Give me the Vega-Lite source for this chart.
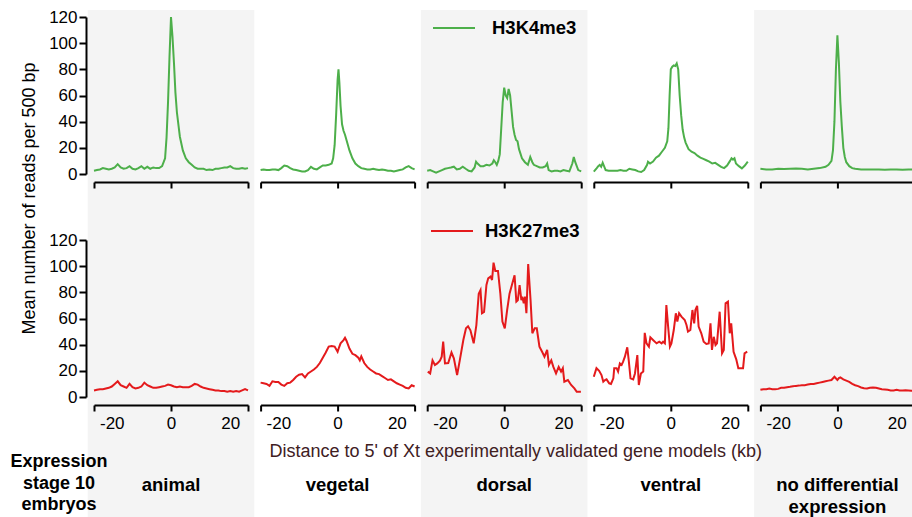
{
  "$schema": "https://vega.github.io/schema/vega-lite/v6.json",
  "background": "white",
  "padding": {"left": 10, "top": 6, "right": 0, "bottom": 0},
  "title": {"text": "Mean number of reads per 500 bp", "orient": "left", "anchor": "middle", "offset": -28, "dx": 64, "fontSize": 18, "fontWeight": "normal", "font": "Liberation Sans", "color": "black"},
  "config": {
    "font": "Liberation Sans",
    "view": {"stroke": null},
    "axis": {"grid": false, "domainColor": "black", "domainWidth": 2, "tickColor": "black", "tickWidth": 2, "labelColor": "black", "labelFontSize": 17, "labelFont": "Liberation Sans", "zindex": 1},
    "legend": {"labelFont": "Liberation Sans"}
  },
  "resolve": {"scale": {"x": "independent", "y": "independent", "color": "independent", "fill": "independent"}, "legend": {"color": "independent"}},
  "spacing": 0,
  "datasets": {
    "k4": [
      {"cond":"animal","kb":-26,"reads":2.5},{"cond":"animal","kb":-25,"reads":3},{"cond":"animal","kb":-24,"reads":3.5},{"cond":"animal","kb":-23,"reads":4.5},{"cond":"animal","kb":-22,"reads":4},{"cond":"animal","kb":-21,"reads":3.5},{"cond":"animal","kb":-20,"reads":4},{"cond":"animal","kb":-19,"reads":5},{"cond":"animal","kb":-18,"reads":7.5},{"cond":"animal","kb":-17,"reads":5},{"cond":"animal","kb":-16,"reads":4},{"cond":"animal","kb":-15,"reads":4.5},{"cond":"animal","kb":-14,"reads":6},{"cond":"animal","kb":-13,"reads":4},{"cond":"animal","kb":-12,"reads":3.5},{"cond":"animal","kb":-11,"reads":4.5},{"cond":"animal","kb":-10,"reads":6},{"cond":"animal","kb":-9,"reads":4},{"cond":"animal","kb":-8,"reads":5.5},{"cond":"animal","kb":-7,"reads":4},{"cond":"animal","kb":-6,"reads":5},{"cond":"animal","kb":-5,"reads":4.5},{"cond":"animal","kb":-4,"reads":4.5},{"cond":"animal","kb":-3,"reads":6},{"cond":"animal","kb":-2,"reads":12},{"cond":"animal","kb":-1.5,"reads":28},{"cond":"animal","kb":-1,"reads":55},{"cond":"animal","kb":-0.5,"reads":90},{"cond":"animal","kb":0,"reads":120},{"cond":"animal","kb":0.5,"reads":105},{"cond":"animal","kb":1,"reads":85},{"cond":"animal","kb":1.5,"reads":62},{"cond":"animal","kb":2,"reads":47},{"cond":"animal","kb":3,"reads":28.5},{"cond":"animal","kb":4,"reads":18},{"cond":"animal","kb":5,"reads":12},{"cond":"animal","kb":6,"reads":9},{"cond":"animal","kb":7,"reads":7},{"cond":"animal","kb":8,"reads":5},{"cond":"animal","kb":9,"reads":4},{"cond":"animal","kb":10,"reads":4},{"cond":"animal","kb":11,"reads":4},{"cond":"animal","kb":12,"reads":3},{"cond":"animal","kb":13,"reads":3.5},{"cond":"animal","kb":14,"reads":3},{"cond":"animal","kb":15,"reads":4},{"cond":"animal","kb":16,"reads":4},{"cond":"animal","kb":17,"reads":4.5},{"cond":"animal","kb":18,"reads":5},{"cond":"animal","kb":19,"reads":5},{"cond":"animal","kb":20,"reads":6},{"cond":"animal","kb":21,"reads":4.5},{"cond":"animal","kb":22,"reads":4},{"cond":"animal","kb":23,"reads":4},{"cond":"animal","kb":24,"reads":4.5},{"cond":"animal","kb":25,"reads":4},{"cond":"animal","kb":26,"reads":4.5},
      {"cond":"vegetal","kb":-26,"reads":3},{"cond":"vegetal","kb":-25,"reads":3.5},{"cond":"vegetal","kb":-24,"reads":3},{"cond":"vegetal","kb":-23,"reads":3},{"cond":"vegetal","kb":-22,"reads":3.5},{"cond":"vegetal","kb":-21,"reads":3.5},{"cond":"vegetal","kb":-20,"reads":3},{"cond":"vegetal","kb":-19,"reads":4.5},{"cond":"vegetal","kb":-18,"reads":6.5},{"cond":"vegetal","kb":-17,"reads":6},{"cond":"vegetal","kb":-16,"reads":4.5},{"cond":"vegetal","kb":-15,"reads":3.5},{"cond":"vegetal","kb":-14,"reads":3},{"cond":"vegetal","kb":-13,"reads":2.5},{"cond":"vegetal","kb":-12,"reads":2},{"cond":"vegetal","kb":-11,"reads":2},{"cond":"vegetal","kb":-10,"reads":3},{"cond":"vegetal","kb":-9,"reads":5.5},{"cond":"vegetal","kb":-8,"reads":4},{"cond":"vegetal","kb":-7,"reads":3.5},{"cond":"vegetal","kb":-6,"reads":5},{"cond":"vegetal","kb":-5,"reads":6.5},{"cond":"vegetal","kb":-4,"reads":6.5},{"cond":"vegetal","kb":-3,"reads":7},{"cond":"vegetal","kb":-2,"reads":8},{"cond":"vegetal","kb":-1.5,"reads":12},{"cond":"vegetal","kb":-1,"reads":22},{"cond":"vegetal","kb":-0.5,"reads":45},{"cond":"vegetal","kb":0,"reads":72},{"cond":"vegetal","kb":0.3,"reads":80},{"cond":"vegetal","kb":0.6,"reads":70},{"cond":"vegetal","kb":1,"reads":52},{"cond":"vegetal","kb":1.5,"reads":38},{"cond":"vegetal","kb":2,"reads":33},{"cond":"vegetal","kb":2.5,"reads":30},{"cond":"vegetal","kb":3,"reads":26},{"cond":"vegetal","kb":4,"reads":18},{"cond":"vegetal","kb":5,"reads":12},{"cond":"vegetal","kb":6,"reads":8},{"cond":"vegetal","kb":7,"reads":6},{"cond":"vegetal","kb":8,"reads":4.5},{"cond":"vegetal","kb":9,"reads":4},{"cond":"vegetal","kb":10,"reads":3.5},{"cond":"vegetal","kb":11,"reads":3.5},{"cond":"vegetal","kb":12,"reads":4},{"cond":"vegetal","kb":13,"reads":3.5},{"cond":"vegetal","kb":14,"reads":3},{"cond":"vegetal","kb":15,"reads":3.5},{"cond":"vegetal","kb":16,"reads":3},{"cond":"vegetal","kb":17,"reads":2.5},{"cond":"vegetal","kb":18,"reads":2.5},{"cond":"vegetal","kb":19,"reads":2},{"cond":"vegetal","kb":20,"reads":2.5},{"cond":"vegetal","kb":21,"reads":3},{"cond":"vegetal","kb":22,"reads":3.5},{"cond":"vegetal","kb":23,"reads":5},{"cond":"vegetal","kb":24,"reads":6},{"cond":"vegetal","kb":25,"reads":4.5},{"cond":"vegetal","kb":26,"reads":3.5},
      {"cond":"dorsal","kb":-26,"reads":2.5},{"cond":"dorsal","kb":-25,"reads":3},{"cond":"dorsal","kb":-24,"reads":2},{"cond":"dorsal","kb":-23,"reads":1},{"cond":"dorsal","kb":-22,"reads":2},{"cond":"dorsal","kb":-21,"reads":3},{"cond":"dorsal","kb":-20,"reads":4},{"cond":"dorsal","kb":-19,"reads":4.5},{"cond":"dorsal","kb":-18,"reads":5},{"cond":"dorsal","kb":-17,"reads":5.6},{"cond":"dorsal","kb":-16,"reads":3.5},{"cond":"dorsal","kb":-15,"reads":4},{"cond":"dorsal","kb":-14,"reads":5.6},{"cond":"dorsal","kb":-13,"reads":4},{"cond":"dorsal","kb":-12,"reads":2.5},{"cond":"dorsal","kb":-11,"reads":2},{"cond":"dorsal","kb":-10,"reads":5},{"cond":"dorsal","kb":-9.5,"reads":9.4},{"cond":"dorsal","kb":-9,"reads":8},{"cond":"dorsal","kb":-8,"reads":6},{"cond":"dorsal","kb":-7,"reads":6},{"cond":"dorsal","kb":-6,"reads":7},{"cond":"dorsal","kb":-5,"reads":6.5},{"cond":"dorsal","kb":-4,"reads":8},{"cond":"dorsal","kb":-3.5,"reads":10.5},{"cond":"dorsal","kb":-3,"reads":9},{"cond":"dorsal","kb":-2.5,"reads":7},{"cond":"dorsal","kb":-2,"reads":10},{"cond":"dorsal","kb":-1.5,"reads":15},{"cond":"dorsal","kb":-1,"reads":35},{"cond":"dorsal","kb":-0.5,"reads":55},{"cond":"dorsal","kb":0,"reads":66},{"cond":"dorsal","kb":0.5,"reads":60},{"cond":"dorsal","kb":1,"reads":58},{"cond":"dorsal","kb":1.5,"reads":65},{"cond":"dorsal","kb":2,"reads":60},{"cond":"dorsal","kb":2.5,"reads":48},{"cond":"dorsal","kb":3,"reads":36},{"cond":"dorsal","kb":3.5,"reads":30},{"cond":"dorsal","kb":4,"reads":26},{"cond":"dorsal","kb":4.5,"reads":25},{"cond":"dorsal","kb":5,"reads":19},{"cond":"dorsal","kb":6,"reads":12},{"cond":"dorsal","kb":7,"reads":9},{"cond":"dorsal","kb":8,"reads":7},{"cond":"dorsal","kb":8.8,"reads":13},{"cond":"dorsal","kb":9.5,"reads":9},{"cond":"dorsal","kb":10,"reads":7},{"cond":"dorsal","kb":11,"reads":6},{"cond":"dorsal","kb":12,"reads":5},{"cond":"dorsal","kb":13,"reads":5},{"cond":"dorsal","kb":14,"reads":6},{"cond":"dorsal","kb":14.5,"reads":8},{"cond":"dorsal","kb":15,"reads":3},{"cond":"dorsal","kb":16,"reads":2},{"cond":"dorsal","kb":17,"reads":2.5},{"cond":"dorsal","kb":18,"reads":2.5},{"cond":"dorsal","kb":19,"reads":2},{"cond":"dorsal","kb":20,"reads":3},{"cond":"dorsal","kb":21,"reads":2.5},{"cond":"dorsal","kb":22,"reads":2},{"cond":"dorsal","kb":23,"reads":8},{"cond":"dorsal","kb":23.5,"reads":13},{"cond":"dorsal","kb":24,"reads":9},{"cond":"dorsal","kb":25,"reads":3},{"cond":"dorsal","kb":26,"reads":2},
      {"cond":"ventral","kb":-26,"reads":1.8},{"cond":"ventral","kb":-25,"reads":4.5},{"cond":"ventral","kb":-24.5,"reads":6},{"cond":"ventral","kb":-24,"reads":7},{"cond":"ventral","kb":-23.5,"reads":5.5},{"cond":"ventral","kb":-23,"reads":8.6},{"cond":"ventral","kb":-22,"reads":3},{"cond":"ventral","kb":-21,"reads":2.5},{"cond":"ventral","kb":-20,"reads":2.5},{"cond":"ventral","kb":-19,"reads":2.5},{"cond":"ventral","kb":-18,"reads":2.5},{"cond":"ventral","kb":-17,"reads":3},{"cond":"ventral","kb":-16,"reads":2.5},{"cond":"ventral","kb":-15,"reads":2.5},{"cond":"ventral","kb":-14,"reads":4},{"cond":"ventral","kb":-13,"reads":3.5},{"cond":"ventral","kb":-12,"reads":3},{"cond":"ventral","kb":-11,"reads":2},{"cond":"ventral","kb":-10,"reads":1.5},{"cond":"ventral","kb":-9,"reads":3},{"cond":"ventral","kb":-8,"reads":7},{"cond":"ventral","kb":-7.7,"reads":9.4},{"cond":"ventral","kb":-7,"reads":8},{"cond":"ventral","kb":-6,"reads":9.5},{"cond":"ventral","kb":-5,"reads":12.5},{"cond":"ventral","kb":-4,"reads":14},{"cond":"ventral","kb":-3,"reads":17},{"cond":"ventral","kb":-2,"reads":20},{"cond":"ventral","kb":-1.2,"reads":25},{"cond":"ventral","kb":-0.8,"reads":35},{"cond":"ventral","kb":-0.4,"reads":60},{"cond":"ventral","kb":0,"reads":80},{"cond":"ventral","kb":0.5,"reads":82},{"cond":"ventral","kb":1,"reads":83},{"cond":"ventral","kb":1.5,"reads":82.5},{"cond":"ventral","kb":2,"reads":84.5},{"cond":"ventral","kb":2.5,"reads":80},{"cond":"ventral","kb":3,"reads":60},{"cond":"ventral","kb":3.5,"reads":45},{"cond":"ventral","kb":4,"reads":34},{"cond":"ventral","kb":4.5,"reads":28},{"cond":"ventral","kb":5,"reads":24},{"cond":"ventral","kb":6,"reads":19},{"cond":"ventral","kb":7,"reads":17},{"cond":"ventral","kb":8,"reads":16},{"cond":"ventral","kb":9,"reads":14},{"cond":"ventral","kb":10,"reads":12.5},{"cond":"ventral","kb":11,"reads":11.5},{"cond":"ventral","kb":12,"reads":10.5},{"cond":"ventral","kb":13,"reads":9.5},{"cond":"ventral","kb":14,"reads":8},{"cond":"ventral","kb":15,"reads":8.5},{"cond":"ventral","kb":16,"reads":7},{"cond":"ventral","kb":17,"reads":5.5},{"cond":"ventral","kb":18,"reads":4.5},{"cond":"ventral","kb":19,"reads":6.5},{"cond":"ventral","kb":20,"reads":10},{"cond":"ventral","kb":20.5,"reads":12},{"cond":"ventral","kb":21,"reads":11},{"cond":"ventral","kb":21.5,"reads":12},{"cond":"ventral","kb":22,"reads":8},{"cond":"ventral","kb":23,"reads":6},{"cond":"ventral","kb":24,"reads":4.3},{"cond":"ventral","kb":25,"reads":6.5},{"cond":"ventral","kb":26,"reads":9.5},
      {"cond":"no differential expression","kb":-26,"reads":4},{"cond":"no differential expression","kb":-24,"reads":3.5},{"cond":"no differential expression","kb":-22,"reads":3.5},{"cond":"no differential expression","kb":-20,"reads":4},{"cond":"no differential expression","kb":-18,"reads":3.8},{"cond":"no differential expression","kb":-16,"reads":4},{"cond":"no differential expression","kb":-14,"reads":4.2},{"cond":"no differential expression","kb":-12,"reads":4},{"cond":"no differential expression","kb":-10,"reads":3.5},{"cond":"no differential expression","kb":-8,"reads":4},{"cond":"no differential expression","kb":-6,"reads":4.5},{"cond":"no differential expression","kb":-4,"reads":5.5},{"cond":"no differential expression","kb":-3,"reads":7},{"cond":"no differential expression","kb":-2,"reads":10},{"cond":"no differential expression","kb":-1.5,"reads":18},{"cond":"no differential expression","kb":-1,"reads":40},{"cond":"no differential expression","kb":-0.5,"reads":80},{"cond":"no differential expression","kb":0,"reads":106},{"cond":"no differential expression","kb":0.5,"reads":85},{"cond":"no differential expression","kb":1,"reads":55},{"cond":"no differential expression","kb":1.5,"reads":36},{"cond":"no differential expression","kb":2,"reads":20},{"cond":"no differential expression","kb":2.5,"reads":13},{"cond":"no differential expression","kb":3,"reads":9},{"cond":"no differential expression","kb":4,"reads":6},{"cond":"no differential expression","kb":5,"reads":4.5},{"cond":"no differential expression","kb":6,"reads":4},{"cond":"no differential expression","kb":8,"reads":3.5},{"cond":"no differential expression","kb":10,"reads":3.5},{"cond":"no differential expression","kb":12,"reads":3.5},{"cond":"no differential expression","kb":14,"reads":3.5},{"cond":"no differential expression","kb":16,"reads":3.2},{"cond":"no differential expression","kb":18,"reads":3.5},{"cond":"no differential expression","kb":20,"reads":3.5},{"cond":"no differential expression","kb":22,"reads":3.2},{"cond":"no differential expression","kb":24,"reads":3.5},{"cond":"no differential expression","kb":26,"reads":3.5}
    ],
    "k27": [
      {"cond":"animal","kb":-26,"reads":5},{"cond":"animal","kb":-25,"reads":5.5},{"cond":"animal","kb":-24,"reads":6},{"cond":"animal","kb":-23,"reads":6},{"cond":"animal","kb":-22,"reads":6.5},{"cond":"animal","kb":-21,"reads":7},{"cond":"animal","kb":-20,"reads":8},{"cond":"animal","kb":-19,"reads":10},{"cond":"animal","kb":-18,"reads":12},{"cond":"animal","kb":-17,"reads":9},{"cond":"animal","kb":-16,"reads":8},{"cond":"animal","kb":-15,"reads":7},{"cond":"animal","kb":-14,"reads":10},{"cond":"animal","kb":-13,"reads":7.5},{"cond":"animal","kb":-12,"reads":6.5},{"cond":"animal","kb":-11,"reads":7},{"cond":"animal","kb":-10,"reads":8},{"cond":"animal","kb":-9,"reads":11},{"cond":"animal","kb":-8,"reads":9},{"cond":"animal","kb":-7,"reads":8},{"cond":"animal","kb":-6,"reads":7},{"cond":"animal","kb":-5,"reads":7},{"cond":"animal","kb":-4,"reads":7.5},{"cond":"animal","kb":-3,"reads":8},{"cond":"animal","kb":-2,"reads":8.5},{"cond":"animal","kb":-1,"reads":9.5},{"cond":"animal","kb":0,"reads":9},{"cond":"animal","kb":1,"reads":8},{"cond":"animal","kb":2,"reads":7.5},{"cond":"animal","kb":3,"reads":8},{"cond":"animal","kb":4,"reads":7.5},{"cond":"animal","kb":5,"reads":7.5},{"cond":"animal","kb":6,"reads":7.5},{"cond":"animal","kb":7,"reads":8.5},{"cond":"animal","kb":8,"reads":10},{"cond":"animal","kb":9,"reads":9.5},{"cond":"animal","kb":10,"reads":8},{"cond":"animal","kb":11,"reads":7},{"cond":"animal","kb":12,"reads":6.5},{"cond":"animal","kb":13,"reads":6},{"cond":"animal","kb":14,"reads":5.5},{"cond":"animal","kb":15,"reads":5},{"cond":"animal","kb":16,"reads":5},{"cond":"animal","kb":17,"reads":4.5},{"cond":"animal","kb":18,"reads":4.5},{"cond":"animal","kb":19,"reads":4},{"cond":"animal","kb":20,"reads":4.5},{"cond":"animal","kb":21,"reads":4},{"cond":"animal","kb":22,"reads":4.5},{"cond":"animal","kb":23,"reads":4},{"cond":"animal","kb":24,"reads":5},{"cond":"animal","kb":25,"reads":6},{"cond":"animal","kb":26,"reads":5},
      {"cond":"vegetal","kb":-26,"reads":11},{"cond":"vegetal","kb":-25,"reads":10.5},{"cond":"vegetal","kb":-24,"reads":10},{"cond":"vegetal","kb":-23,"reads":8.5},{"cond":"vegetal","kb":-22,"reads":12},{"cond":"vegetal","kb":-21,"reads":11.5},{"cond":"vegetal","kb":-20,"reads":11.5},{"cond":"vegetal","kb":-19,"reads":9.5},{"cond":"vegetal","kb":-18,"reads":8.5},{"cond":"vegetal","kb":-17,"reads":10.5},{"cond":"vegetal","kb":-16,"reads":11},{"cond":"vegetal","kb":-15,"reads":13},{"cond":"vegetal","kb":-14,"reads":15.5},{"cond":"vegetal","kb":-13,"reads":17},{"cond":"vegetal","kb":-12,"reads":17.5},{"cond":"vegetal","kb":-11,"reads":15},{"cond":"vegetal","kb":-10,"reads":18},{"cond":"vegetal","kb":-9,"reads":19.5},{"cond":"vegetal","kb":-8,"reads":21},{"cond":"vegetal","kb":-7,"reads":23},{"cond":"vegetal","kb":-6,"reads":26},{"cond":"vegetal","kb":-5,"reads":30},{"cond":"vegetal","kb":-4,"reads":34},{"cond":"vegetal","kb":-3,"reads":38.5},{"cond":"vegetal","kb":-2,"reads":39},{"cond":"vegetal","kb":-1,"reads":38.5},{"cond":"vegetal","kb":0,"reads":34.5},{"cond":"vegetal","kb":0.5,"reads":38},{"cond":"vegetal","kb":1,"reads":41},{"cond":"vegetal","kb":2,"reads":43.5},{"cond":"vegetal","kb":2.5,"reads":45.3},{"cond":"vegetal","kb":3,"reads":43},{"cond":"vegetal","kb":4,"reads":37},{"cond":"vegetal","kb":5,"reads":33},{"cond":"vegetal","kb":6,"reads":32},{"cond":"vegetal","kb":7,"reads":30},{"cond":"vegetal","kb":7.5,"reads":28},{"cond":"vegetal","kb":8,"reads":31},{"cond":"vegetal","kb":9,"reads":26},{"cond":"vegetal","kb":10,"reads":23},{"cond":"vegetal","kb":11,"reads":21},{"cond":"vegetal","kb":12,"reads":19.5},{"cond":"vegetal","kb":13,"reads":18},{"cond":"vegetal","kb":14,"reads":17.5},{"cond":"vegetal","kb":15,"reads":16},{"cond":"vegetal","kb":16,"reads":14.5},{"cond":"vegetal","kb":17,"reads":13},{"cond":"vegetal","kb":18,"reads":13.5},{"cond":"vegetal","kb":19,"reads":12},{"cond":"vegetal","kb":20,"reads":10.5},{"cond":"vegetal","kb":21,"reads":9.5},{"cond":"vegetal","kb":22,"reads":8.5},{"cond":"vegetal","kb":23,"reads":7},{"cond":"vegetal","kb":24,"reads":6.5},{"cond":"vegetal","kb":25,"reads":9},{"cond":"vegetal","kb":26,"reads":8},
      {"cond":"dorsal","kb":-25.8,"reads":19.4},{"cond":"dorsal","kb":-25,"reads":18},{"cond":"dorsal","kb":-24.2,"reads":28},{"cond":"dorsal","kb":-23.4,"reads":24.5},{"cond":"dorsal","kb":-22.6,"reads":25.7},{"cond":"dorsal","kb":-21.7,"reads":27.8},{"cond":"dorsal","kb":-21.1,"reads":30.8},{"cond":"dorsal","kb":-20.6,"reads":42.3},{"cond":"dorsal","kb":-20,"reads":25.7},{"cond":"dorsal","kb":-18.9,"reads":26},{"cond":"dorsal","kb":-17.8,"reads":34},{"cond":"dorsal","kb":-17,"reads":29.5},{"cond":"dorsal","kb":-15.9,"reads":16.8},{"cond":"dorsal","kb":-15,"reads":28},{"cond":"dorsal","kb":-13.8,"reads":43.6},{"cond":"dorsal","kb":-12.9,"reads":52.5},{"cond":"dorsal","kb":-12.2,"reads":54},{"cond":"dorsal","kb":-11.4,"reads":51},{"cond":"dorsal","kb":-10.3,"reads":41},{"cond":"dorsal","kb":-9.4,"reads":55},{"cond":"dorsal","kb":-8.6,"reads":79},{"cond":"dorsal","kb":-8,"reads":81.8},{"cond":"dorsal","kb":-7.5,"reads":64},{"cond":"dorsal","kb":-6.8,"reads":65},{"cond":"dorsal","kb":-6,"reads":85.6},{"cond":"dorsal","kb":-5.4,"reads":90.7},{"cond":"dorsal","kb":-4.6,"reads":92},{"cond":"dorsal","kb":-4.1,"reads":89.4},{"cond":"dorsal","kb":-3.6,"reads":102.7},{"cond":"dorsal","kb":-3,"reads":96.3},{"cond":"dorsal","kb":-2.1,"reads":96.3},{"cond":"dorsal","kb":-1.3,"reads":79},{"cond":"dorsal","kb":-0.6,"reads":57.6},{"cond":"dorsal","kb":0.2,"reads":52.5},{"cond":"dorsal","kb":1,"reads":66.5},{"cond":"dorsal","kb":1.8,"reads":79},{"cond":"dorsal","kb":2.6,"reads":85.6},{"cond":"dorsal","kb":3.5,"reads":93},{"cond":"dorsal","kb":4.1,"reads":72.9},{"cond":"dorsal","kb":4.6,"reads":74},{"cond":"dorsal","kb":5.2,"reads":85.6},{"cond":"dorsal","kb":5.8,"reads":74},{"cond":"dorsal","kb":6.1,"reads":76.7},{"cond":"dorsal","kb":6.6,"reads":71.6},{"cond":"dorsal","kb":7,"reads":76.7},{"cond":"dorsal","kb":7.5,"reads":64},{"cond":"dorsal","kb":8.1,"reads":101.7},{"cond":"dorsal","kb":8.9,"reads":74},{"cond":"dorsal","kb":9.5,"reads":48.7},{"cond":"dorsal","kb":10.3,"reads":52.5},{"cond":"dorsal","kb":11,"reads":52.5},{"cond":"dorsal","kb":11.9,"reads":38.5},{"cond":"dorsal","kb":12.8,"reads":34.6},{"cond":"dorsal","kb":13.6,"reads":30.8},{"cond":"dorsal","kb":14.5,"reads":36},{"cond":"dorsal","kb":15.1,"reads":24.5},{"cond":"dorsal","kb":15.9,"reads":28},{"cond":"dorsal","kb":16.6,"reads":23},{"cond":"dorsal","kb":17.5,"reads":18},{"cond":"dorsal","kb":18.4,"reads":23},{"cond":"dorsal","kb":19.2,"reads":19.4},{"cond":"dorsal","kb":19.8,"reads":22},{"cond":"dorsal","kb":20.3,"reads":11.7},{"cond":"dorsal","kb":21.5,"reads":13},{"cond":"dorsal","kb":22.6,"reads":9.2},{"cond":"dorsal","kb":23.7,"reads":6.6},{"cond":"dorsal","kb":24.5,"reads":4},{"cond":"dorsal","kb":25.9,"reads":4},
      {"cond":"ventral","kb":-26,"reads":15.5},{"cond":"ventral","kb":-25.1,"reads":22},{"cond":"ventral","kb":-24.2,"reads":20},{"cond":"ventral","kb":-23.4,"reads":16.8},{"cond":"ventral","kb":-22.8,"reads":11.7},{"cond":"ventral","kb":-22.2,"reads":13},{"cond":"ventral","kb":-21.7,"reads":13.5},{"cond":"ventral","kb":-20.8,"reads":10.4},{"cond":"ventral","kb":-20.2,"reads":10},{"cond":"ventral","kb":-19.4,"reads":14.3},{"cond":"ventral","kb":-19.1,"reads":22},{"cond":"ventral","kb":-18.3,"reads":22},{"cond":"ventral","kb":-17.8,"reads":19.4},{"cond":"ventral","kb":-17.2,"reads":25.7},{"cond":"ventral","kb":-16.6,"reads":24.5},{"cond":"ventral","kb":-16.1,"reads":27},{"cond":"ventral","kb":-15.5,"reads":30.8},{"cond":"ventral","kb":-14.7,"reads":38},{"cond":"ventral","kb":-14.2,"reads":28},{"cond":"ventral","kb":-13.6,"reads":14.3},{"cond":"ventral","kb":-12.7,"reads":13.5},{"cond":"ventral","kb":-12.1,"reads":18},{"cond":"ventral","kb":-11.3,"reads":32},{"cond":"ventral","kb":-10.8,"reads":9.2},{"cond":"ventral","kb":-10.1,"reads":18},{"cond":"ventral","kb":-9.3,"reads":19.4},{"cond":"ventral","kb":-8.8,"reads":49},{"cond":"ventral","kb":-8.2,"reads":41},{"cond":"ventral","kb":-7.4,"reads":38.5},{"cond":"ventral","kb":-6.9,"reads":45.6},{"cond":"ventral","kb":-6,"reads":43.6},{"cond":"ventral","kb":-4.8,"reads":41},{"cond":"ventral","kb":-3.9,"reads":42.3},{"cond":"ventral","kb":-3.1,"reads":41},{"cond":"ventral","kb":-2.6,"reads":42.3},{"cond":"ventral","kb":-2,"reads":41},{"cond":"ventral","kb":-1.5,"reads":70.3},{"cond":"ventral","kb":-0.9,"reads":53.8},{"cond":"ventral","kb":-0.3,"reads":38.5},{"cond":"ventral","kb":0.2,"reads":41},{"cond":"ventral","kb":1,"reads":51.2},{"cond":"ventral","kb":1.7,"reads":64},{"cond":"ventral","kb":2.2,"reads":57.6},{"cond":"ventral","kb":2.8,"reads":64},{"cond":"ventral","kb":3.6,"reads":61.4},{"cond":"ventral","kb":4.7,"reads":58.9},{"cond":"ventral","kb":5.3,"reads":55},{"cond":"ventral","kb":5.8,"reads":50},{"cond":"ventral","kb":6.6,"reads":51.2},{"cond":"ventral","kb":7.3,"reads":66.5},{"cond":"ventral","kb":7.9,"reads":56.3},{"cond":"ventral","kb":8.3,"reads":66.5},{"cond":"ventral","kb":8.9,"reads":69.6},{"cond":"ventral","kb":9.4,"reads":53.8},{"cond":"ventral","kb":10.3,"reads":48.7},{"cond":"ventral","kb":11.1,"reads":42.3},{"cond":"ventral","kb":12,"reads":40.5},{"cond":"ventral","kb":12.8,"reads":41},{"cond":"ventral","kb":13.4,"reads":56.3},{"cond":"ventral","kb":13.9,"reads":36},{"cond":"ventral","kb":14.5,"reads":46},{"cond":"ventral","kb":15.1,"reads":39.7},{"cond":"ventral","kb":15.6,"reads":41},{"cond":"ventral","kb":16.5,"reads":65.2},{"cond":"ventral","kb":17.3,"reads":33.4},{"cond":"ventral","kb":17.9,"reads":36},{"cond":"ventral","kb":18.5,"reads":71.6},{"cond":"ventral","kb":19.3,"reads":72.9},{"cond":"ventral","kb":19.9,"reads":48.7},{"cond":"ventral","kb":20.4,"reads":56.3},{"cond":"ventral","kb":21.2,"reads":34.6},{"cond":"ventral","kb":22.1,"reads":28.8},{"cond":"ventral","kb":22.8,"reads":22},{"cond":"ventral","kb":23.7,"reads":22},{"cond":"ventral","kb":24.4,"reads":22},{"cond":"ventral","kb":24.9,"reads":33.4},{"cond":"ventral","kb":25.8,"reads":34.6},
      {"cond":"no differential expression","kb":-26,"reads":5.5},{"cond":"no differential expression","kb":-25,"reads":6},{"cond":"no differential expression","kb":-24,"reads":6},{"cond":"no differential expression","kb":-23,"reads":6.5},{"cond":"no differential expression","kb":-22,"reads":6},{"cond":"no differential expression","kb":-21,"reads":6},{"cond":"no differential expression","kb":-20,"reads":6.2},{"cond":"no differential expression","kb":-19,"reads":7},{"cond":"no differential expression","kb":-18,"reads":7},{"cond":"no differential expression","kb":-17,"reads":7.5},{"cond":"no differential expression","kb":-16,"reads":7.8},{"cond":"no differential expression","kb":-15,"reads":8.2},{"cond":"no differential expression","kb":-14,"reads":8.5},{"cond":"no differential expression","kb":-13,"reads":8.7},{"cond":"no differential expression","kb":-12,"reads":9},{"cond":"no differential expression","kb":-11,"reads":9},{"cond":"no differential expression","kb":-10,"reads":9.5},{"cond":"no differential expression","kb":-9,"reads":10},{"cond":"no differential expression","kb":-8,"reads":10},{"cond":"no differential expression","kb":-7,"reads":10.5},{"cond":"no differential expression","kb":-6,"reads":11},{"cond":"no differential expression","kb":-5,"reads":11.5},{"cond":"no differential expression","kb":-4,"reads":12},{"cond":"no differential expression","kb":-3,"reads":12.5},{"cond":"no differential expression","kb":-2,"reads":13},{"cond":"no differential expression","kb":-1,"reads":15.5},{"cond":"no differential expression","kb":0,"reads":13},{"cond":"no differential expression","kb":0.5,"reads":14.5},{"cond":"no differential expression","kb":1,"reads":15},{"cond":"no differential expression","kb":2,"reads":13.5},{"cond":"no differential expression","kb":3,"reads":12.5},{"cond":"no differential expression","kb":4,"reads":11.5},{"cond":"no differential expression","kb":5,"reads":10},{"cond":"no differential expression","kb":6,"reads":9},{"cond":"no differential expression","kb":7,"reads":8.3},{"cond":"no differential expression","kb":8,"reads":7.3},{"cond":"no differential expression","kb":9,"reads":6.7},{"cond":"no differential expression","kb":10,"reads":6.5},{"cond":"no differential expression","kb":11,"reads":7},{"cond":"no differential expression","kb":12,"reads":7.3},{"cond":"no differential expression","kb":13,"reads":7},{"cond":"no differential expression","kb":14,"reads":6.5},{"cond":"no differential expression","kb":15,"reads":6},{"cond":"no differential expression","kb":16,"reads":5.8},{"cond":"no differential expression","kb":17,"reads":5.5},{"cond":"no differential expression","kb":18,"reads":5},{"cond":"no differential expression","kb":19,"reads":5},{"cond":"no differential expression","kb":20,"reads":5.5},{"cond":"no differential expression","kb":21,"reads":5},{"cond":"no differential expression","kb":22,"reads":5},{"cond":"no differential expression","kb":23,"reads":5.2},{"cond":"no differential expression","kb":24,"reads":5},{"cond":"no differential expression","kb":25,"reads":4.8},{"cond":"no differential expression","kb":26,"reads":4.8}
    ],
    "labels": [
      {"cond":"animal","name":"animal"},
      {"cond":"vegetal","name":"vegetal"},
      {"cond":"dorsal","name":"dorsal"},
      {"cond":"ventral","name":"ventral"},
      {"cond":"no differential expression","name":"no differential\nexpression"}
    ]
  },
  "vconcat": [
    {
      "data": {"name": "k4"},
      "bounds": "flush",
      "spacing": {"column": 12.6},
      "resolve": {"axis": {"x": "independent"}},
      "facet": {"column": {"field": "cond", "type": "nominal", "sort": ["animal","vegetal","dorsal","ventral","no differential expression"], "header": null}},
      "spec": {
        "width": 154,
        "height": 157,
        "layer": [
          {
            "transform": [{"aggregate": [{"op": "count", "as": "n"}], "groupby": ["cond"]}],
            "mark": {"type": "rect", "clip": false},
            "encoding": {
              "x": {"datum": -28.13, "type": "quantitative", "scale": {"domain": [-26, 26], "nice": false, "zero": false}, "axis": {"values": [-26, 0, 26], "labels": false, "title": null, "offset": 8, "tickSize": 6}},
              "x2": {"datum": 28.13},
              "y": {"datum": 125.35, "type": "quantitative", "scale": {"domain": [0, 120], "nice": false, "zero": false}, "axis": {"values": [0, 20, 40, 60, 80, 100, 120], "title": null, "offset": 8, "tickSize": 7, "labelPadding": 2}},
              "y2": {"datum": -19.87},
              "fill": {"field": "cond", "type": "nominal", "scale": {"domain": ["animal","vegetal","dorsal","ventral","no differential expression"], "range": ["rgba(0,0,0,0.045)", "rgba(0,0,0,0)", "rgba(0,0,0,0.045)", "rgba(0,0,0,0)", "rgba(0,0,0,0.045)"]}, "legend": null}
            }
          },
          {
            "mark": {"type": "line", "strokeWidth": 2},
            "encoding": {
              "x": {"field": "kb", "type": "quantitative", "axis": {"values": [-26, 0, 26], "labels": false, "title": null, "offset": 8, "tickSize": 6}},
              "y": {"field": "reads", "type": "quantitative", "axis": {"values": [0, 20, 40, 60, 80, 100, 120], "title": null, "offset": 8, "tickSize": 7, "labelPadding": 2}},
              "color": {"datum": "H3K4me3", "type": "nominal", "scale": {"domain": ["H3K4me3"], "range": ["#4daf4a"]}, "legend": {"orient": "none", "legendX": 338, "legendY": -11, "title": null, "symbolType": "stroke", "symbolSize": 1764, "symbolStrokeWidth": 2, "labelFontSize": 18.5, "labelFontWeight": "bold", "labelColor": "black", "labelOffset": 16}}
            }
          }
        ]
      }
    },
    {
      "data": {"name": "k27"},
      "bounds": "flush",
      "spacing": {"column": 12.6},
      "resolve": {"axis": {"x": "independent"}},
      "facet": {"column": {"field": "cond", "type": "nominal", "sort": ["animal","vegetal","dorsal","ventral","no differential expression"], "header": null}},
      "spec": {
        "width": 154,
        "height": 157,
        "layer": [
          {
            "transform": [{"aggregate": [{"op": "count", "as": "n"}], "groupby": ["cond"]}],
            "mark": {"type": "rect", "clip": false},
            "encoding": {
              "x": {"datum": -28.13, "type": "quantitative", "scale": {"domain": [-26, 26], "nice": false, "zero": false}, "axis": {"values": [-26, -20, 0, 20, 26], "labelExpr": "abs(datum.value) == 26 ? '' : (datum.value < 0 ? '-' + abs(datum.value) : '' + datum.value)", "tickOpacity": {"condition": {"test": "abs(datum.value) == 20", "value": 0}, "value": 1}, "labelOverlap": false, "labelFlush": false, "labelPadding": 4, "title": null, "offset": 8, "tickSize": 6}},
              "x2": {"datum": 28.13},
              "y": {"datum": 150.57, "type": "quantitative", "scale": {"domain": [0, 120], "nice": false, "zero": false}, "axis": {"values": [0, 20, 40, 60, 80, 100, 120], "title": null, "offset": 8, "tickSize": 7, "labelPadding": 2}},
              "y2": {"datum": -28.28},
              "fill": {"field": "cond", "type": "nominal", "scale": {"domain": ["animal","vegetal","dorsal","ventral","no differential expression"], "range": ["rgba(0,0,0,0.045)", "rgba(0,0,0,0)", "rgba(0,0,0,0.045)", "rgba(0,0,0,0)", "rgba(0,0,0,0.045)"]}, "legend": null}
            }
          },
          {
            "mark": {"type": "line", "strokeWidth": 2},
            "encoding": {
              "x": {"field": "kb", "type": "quantitative", "axis": {"values": [-26, -20, 0, 20, 26], "labelExpr": "abs(datum.value) == 26 ? '' : (datum.value < 0 ? '-' + abs(datum.value) : '' + datum.value)", "tickOpacity": {"condition": {"test": "abs(datum.value) == 20", "value": 0}, "value": 1}, "labelOverlap": false, "labelFlush": false, "labelPadding": 4, "title": null, "offset": 8, "tickSize": 6}},
              "y": {"field": "reads", "type": "quantitative", "axis": {"values": [0, 20, 40, 60, 80, 100, 120], "title": null, "offset": 8, "tickSize": 7, "labelPadding": 2}},
              "color": {"datum": "H3K27me3", "type": "nominal", "scale": {"domain": ["H3K27me3"], "range": ["#e41a1c"]}, "legend": {"orient": "none", "legendX": 336, "legendY": -31, "title": null, "symbolType": "stroke", "symbolSize": 1764, "symbolStrokeWidth": 2, "labelFontSize": 18.5, "labelFontWeight": "bold", "labelColor": "black", "labelOffset": 11}}
            }
          }
        ]
      }
    },
    {
      "data": {"name": "labels"},
      "bounds": "flush",
      "spacing": {"column": 12.6},
      "facet": {"column": {"field": "cond", "type": "nominal", "sort": ["animal","vegetal","dorsal","ventral","no differential expression"], "header": null}},
      "spec": {
        "width": 154,
        "height": 85,
        "layer": [
          {
            "mark": {"type": "rect", "clip": false},
            "encoding": {
              "x": {"datum": -28.13, "type": "quantitative", "scale": {"domain": [-26, 26], "nice": false, "zero": false}, "axis": null},
              "x2": {"datum": 28.13},
              "y": {"datum": 85, "type": "quantitative", "scale": {"domain": [0, 85], "nice": false, "zero": false}, "axis": null},
              "y2": {"datum": 0},
              "fill": {"field": "cond", "type": "nominal", "scale": {"domain": ["animal","vegetal","dorsal","ventral","no differential expression"], "range": ["rgba(0,0,0,0.045)", "rgba(0,0,0,0)", "rgba(0,0,0,0.045)", "rgba(0,0,0,0)", "rgba(0,0,0,0.045)"]}, "legend": null}
            }
          },
          {
            "mark": {"type": "text", "align": "center", "baseline": "middle", "fontSize": 18.5, "fontWeight": "bold", "color": "black", "lineBreak": "\n", "lineHeight": 22, "clip": false},
            "encoding": {
              "x": {"datum": 0, "type": "quantitative", "axis": null},
              "y": {"datum": 34, "type": "quantitative", "axis": null},
              "text": {"field": "name", "type": "nominal"}
            }
          },
          {
            "transform": [{"filter": "datum.cond == 'animal'"}],
            "mark": {"type": "text", "align": "center", "baseline": "middle", "fontSize": 18, "fontWeight": "bold", "color": "black", "lineHeight": 21.5, "clip": false},
            "encoding": {
              "x": {"datum": -37.8, "type": "quantitative", "axis": null},
              "y": {"datum": 57, "type": "quantitative", "axis": null},
              "text": {"value": ["Expression", "stage 10", "embryos"]}
            }
          },
          {
            "transform": [{"filter": "datum.cond == 'dorsal'"}],
            "mark": {"type": "text", "align": "center", "baseline": "middle", "fontSize": 18, "fontWeight": "normal", "color": "#40201f", "clip": false},
            "encoding": {
              "x": {"datum": 3.9, "type": "quantitative", "axis": null},
              "y": {"datum": 67, "type": "quantitative", "axis": null},
              "text": {"value": "Distance to 5' of Xt experimentally validated gene models (kb)"}
            }
          }
        ]
      }
    }
  ]
}
